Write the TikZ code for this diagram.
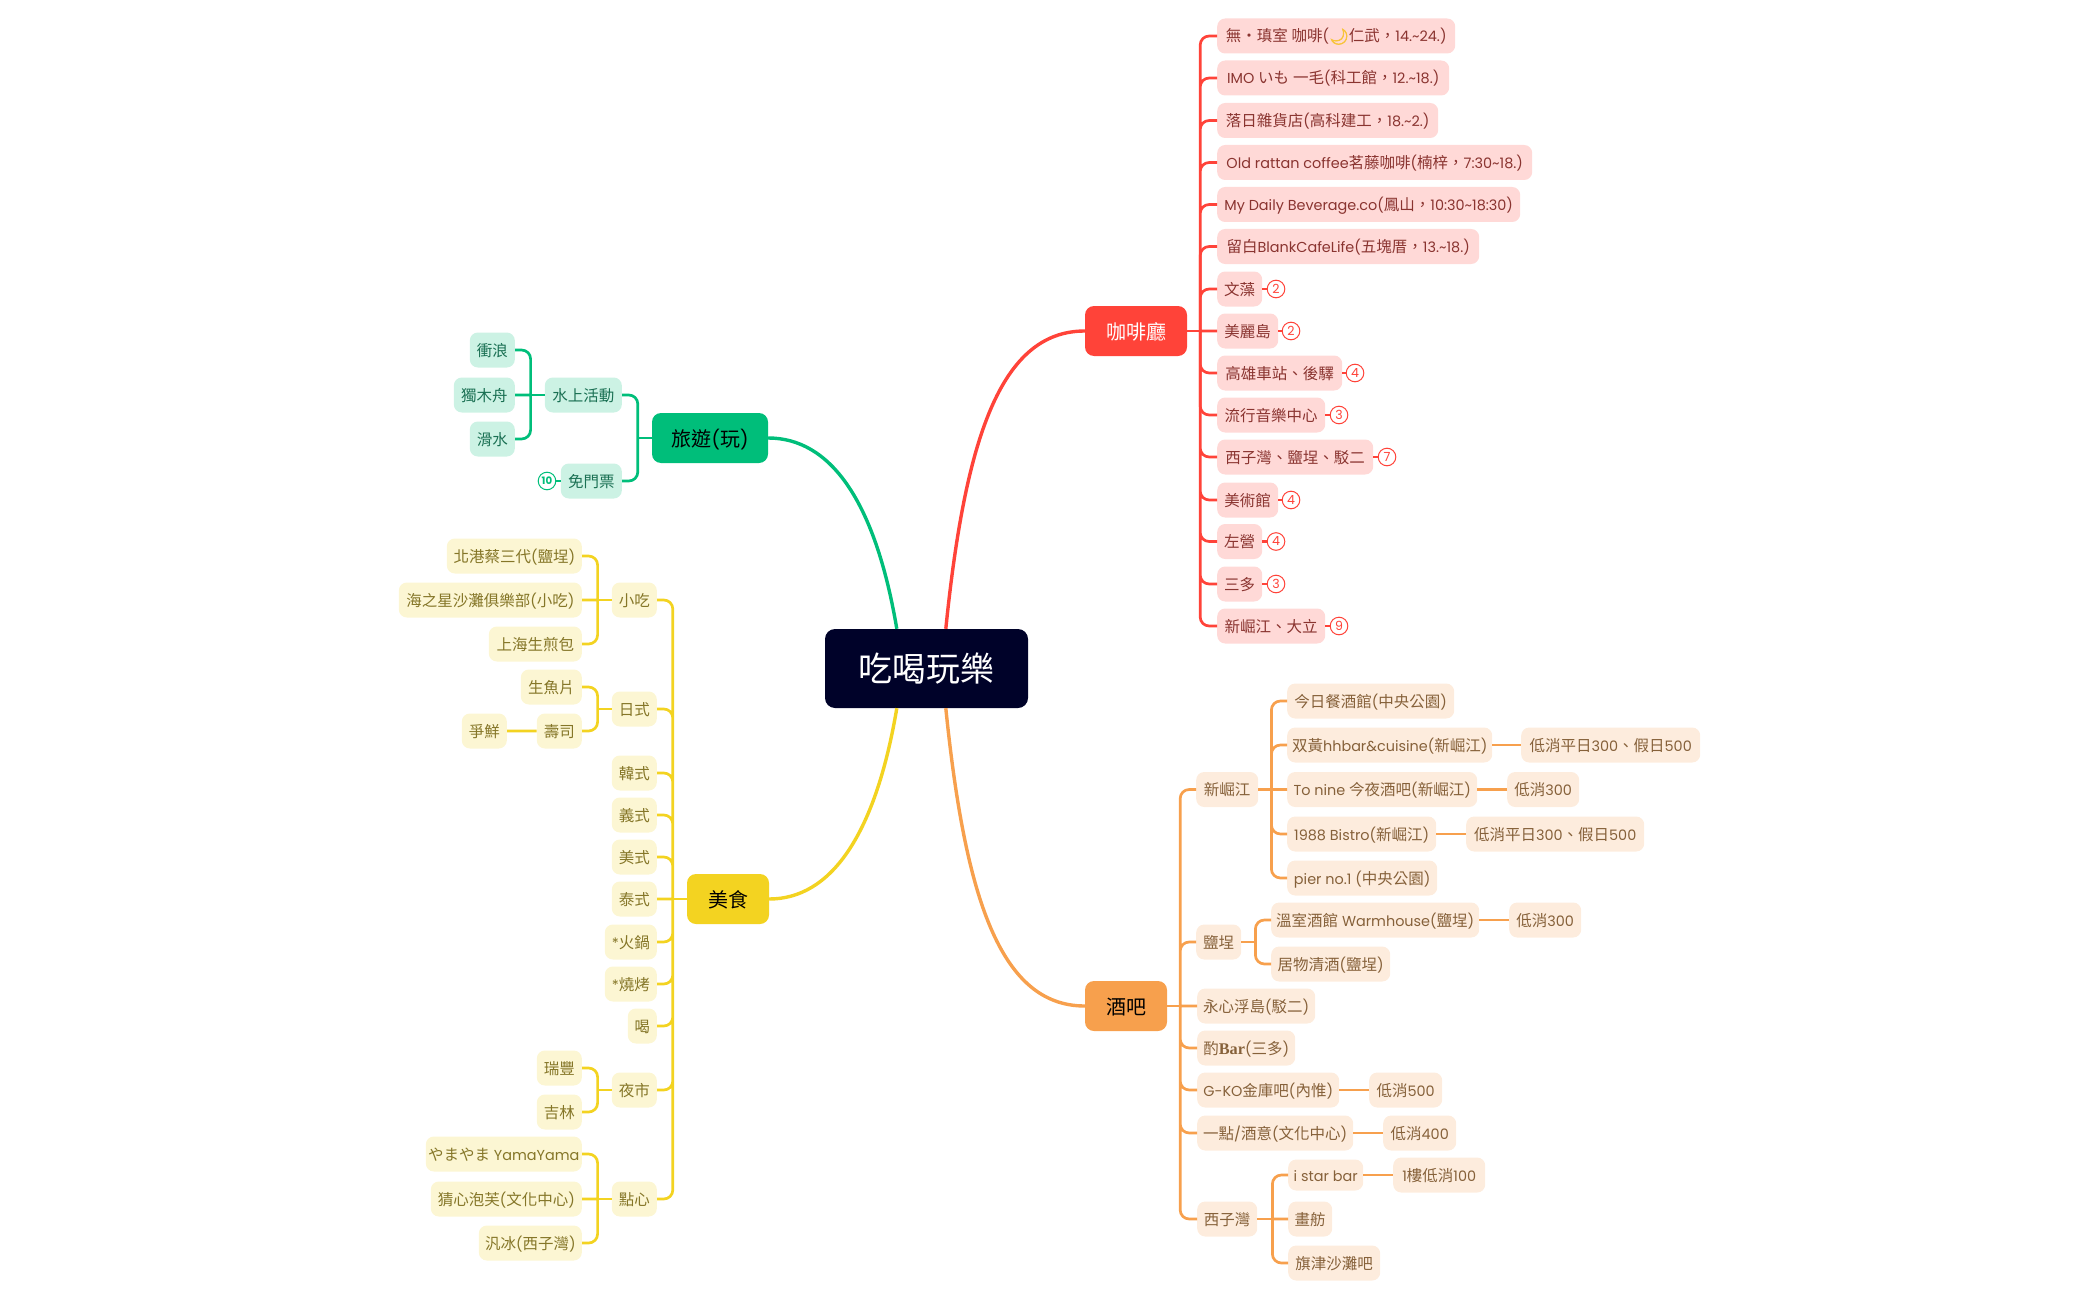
\documentclass[tikz,border=0pt]{standalone}
\usepackage{fontspec}
\setmainfont[Scale=0.93]{Poppins}
\newfontfamily\cjkfont{Noto Sans CJK TC}
\newfontfamily\emojifont[FakeBold=4]{Noto Emoji}
\newfontfamily\barfont[Scale=1.05]{Liberation Serif}
% chinese and kana go to the cjk font
\XeTeXinterchartokenstate=1
\newXeTeXintercharclass\cjkclass
\newcount\cjkchar
\cjkchar="3000 \loop\XeTeXcharclass\cjkchar=\cjkclass\ifnum\cjkchar<"9FFF\advance\cjkchar by 1\repeat
\cjkchar="FF00 \loop\XeTeXcharclass\cjkchar=\cjkclass\ifnum\cjkchar<"FFEF\advance\cjkchar by 1\repeat
\XeTeXinterchartoks 0 \cjkclass={\cjkfont}
\XeTeXinterchartoks \cjkclass 0={\rmfamily}
\XeTeXinterchartoks 4095 \cjkclass={\cjkfont}
\XeTeXinterchartoks \cjkclass 4095={\rmfamily}
\newcommand{\tld}{\char"007E }
\definecolor{rootcol}{HTML}{000229}
\definecolor{redcol}{HTML}{FF4339}
\definecolor{redfill}{HTML}{FFD9D7}
\definecolor{redtext}{HTML}{8A3430}
\definecolor{orangecol}{HTML}{F7A04D}
\definecolor{orangefill}{HTML}{FDECDD}
\definecolor{orangetext}{HTML}{86613A}
\definecolor{greencol}{HTML}{00BE7A}
\definecolor{greenfill}{HTML}{CCF2E4}
\definecolor{greentext}{HTML}{1A7053}
\definecolor{yellowcol}{HTML}{F3D321}
\definecolor{yellowfill}{HTML}{FCF6D3}
\definecolor{yellowtext}{HTML}{857628}
\definecolor{mooncol}{HTML}{F8C43A}
\tikzset{
  leafnode/.style={rounded corners=8pt, inner sep=0pt, minimum height=35pt, text height=13.6pt, text depth=1.6pt, font=\fontsize{15.5}{18}\selectfont},
  redleaf/.style={leafnode, fill=redfill, text=redtext},
  orangeleaf/.style={leafnode, fill=orangefill, text=orangetext},
  greenleaf/.style={leafnode, fill=greenfill, text=greentext},
  yellowleaf/.style={leafnode, fill=yellowfill, text=yellowtext},
  topicnode/.style={rounded corners=9pt, inner sep=0pt, minimum height=50pt, text height=19pt, text depth=2.4pt, font=\fontsize{20}{24}\selectfont},
  badge/.style={circle, draw=#1, fill=white, text=#1, line width=1pt, inner sep=0pt, minimum size=17.6pt, font=\fontsize{13.5}{14}\selectfont},
  redlink/.style={draw=redcol, line width=2.7pt, rounded corners=9pt},
  orangelink/.style={draw=orangecol, line width=2.7pt, rounded corners=9pt},
  greenlink/.style={draw=greencol, line width=2.7pt, rounded corners=9pt},
  yellowlink/.style={draw=yellowcol, line width=2.7pt, rounded corners=9pt},
  trunk/.style={line width=3.4pt},
}
\begin{document}
\begin{tikzpicture}[x=1pt, y=-1pt]
    \useasboundingbox (0,0) rectangle (2099,1300);

    % Centre
    \node[rounded corners=10pt, fill=rootcol, text=white, inner sep=0pt, minimum width=203pt, minimum height=79pt, text height=30pt, text depth=4.2pt, font=\fontsize{34}{38}\selectfont] (root) at (926.5,668.5) {吃喝玩樂};

    % Main topics
    \node[topicnode, fill=redcol, text=white, minimum width=102pt] (cafe) at (1136,331) {咖啡廳};
    \node[topicnode, fill=orangecol, text=black, minimum width=82pt] (bar) at (1126,1006) {酒吧};
    \node[topicnode, fill=greencol, text=black, minimum width=116pt] (travel) at (710,438) {旅遊(玩)};
    \node[topicnode, fill=yellowcol, text=black, minimum width=82pt] (food) at (728,899) {美食};

    \draw[trunk, draw=redcol] ([xshift=121pt]root.north west) .. controls (965,440) and (1000,331) .. (cafe.west);
    \draw[trunk, draw=orangecol] ([xshift=121pt]root.south west) .. controls (965,897) and (1000,1006) .. (bar.west);
    \draw[trunk, draw=greencol] ([xshift=72pt]root.north west) .. controls (875,500) and (830,438) .. (travel.east);
    \draw[trunk, draw=yellowcol] ([xshift=72pt]root.south west) .. controls (875,837) and (830,899) .. (food.east);

    % Coffee
    \begin{scope}[every node/.append style={redleaf, anchor=west}]
        \node[minimum width=238pt] (c1) at (1217,36) {無・瑱室 咖啡({\emojifont\color{mooncol}🌙}仁武，14.\tld24.)};
        \node[minimum width=232pt] (c2) at (1217,78) {IMO いも 一毛(科工館，12.\tld18.)};
        \node[minimum width=221pt] (c3) at (1217,120.5) {落日雜貨店(高科建工，18.\tld2.)};
        \node[minimum width=315pt] (c4) at (1217,162.5) {Old rattan coffee茗藤咖啡(楠梓，7:30\tld18.)};
        \node[minimum width=303pt] (c5) at (1217,204.5) {My Daily Beverage.co(鳳山，10:30\tld18:30)};
        \node[minimum width=262pt] (c6) at (1217,246.5) {留白BlankCafeLife(五塊厝，13.\tld18.)};
        \node[minimum width=45pt] (c7) at (1217,289) {文藻};
        \node[minimum width=61pt] (c8) at (1217,331) {美麗島};
        \node[minimum width=125pt] (c9) at (1217,373) {高雄車站、後驛};
        \node[minimum width=108pt] (c10) at (1217,415) {流行音樂中心};
        \node[minimum width=156pt] (c11) at (1217,457) {西子灣、鹽埕、駁二};
        \node[minimum width=61pt] (c12) at (1217,500) {美術館};
        \node[minimum width=45pt] (c13) at (1217,541.5) {左營};
        \node[minimum width=45pt] (c14) at (1217,584) {三多};
        \node[minimum width=108pt] (c15) at (1217,626) {新崛江、大立};
    \end{scope}
    \node[badge=redcol] (n7) at (1276,289) {2};
    \node[badge=redcol] (n8) at (1291,331) {2};
    \node[badge=redcol] (n9) at (1355,373) {4};
    \node[badge=redcol] (n10) at (1339,415) {3};
    \node[badge=redcol] (n11) at (1387,457) {7};
    \node[badge=redcol] (n12) at (1291,500) {4};
    \node[badge=redcol] (n13) at (1276,541.5) {4};
    \node[badge=redcol] (n14) at (1276,584) {3};
    \node[badge=redcol] (n15) at (1339,626) {9};

    \coordinate (cafej) at ([xshift=13pt]cafe.east);
    \draw[redlink] (cafe.east) -- (cafej);
    \draw[redlink] (cafej) |- (c1.west) (cafej) |- (c2.west) (cafej) |- (c3.west) (cafej) |- (c4.west) (cafej) |- (c5.west);
    \draw[redlink] (cafej) |- (c6.west) (cafej) |- (c7.west) (cafej) -- (c8.west) (cafej) |- (c9.west) (cafej) |- (c10.west);
    \draw[redlink] (cafej) |- (c11.west) (cafej) |- (c12.west) (cafej) |- (c13.west) (cafej) |- (c14.west) (cafej) |- (c15.west);
    \draw[redlink] (c7.east) -- (n7) (c8.east) -- (n8) (c9.east) -- (n9) (c10.east) -- (n10) (c11.east) -- (n11);
    \draw[redlink] (c12.east) -- (n12) (c13.east) -- (n13) (c14.east) -- (n14) (c15.east) -- (n15);

    % Bars
    \begin{scope}[every node/.append style={orangeleaf, anchor=west}]
        \node[minimum width=62pt] (b1) at (1196,789.5) {新崛江};
        \node[minimum width=167pt] (b11) at (1287,701) {今日餐酒館(中央公園)};
        \node[minimum width=205pt] (b12) at (1287,745) {双黃hhbar\&cuisine(新崛江)};
        \node[minimum width=179pt] (b121) at (1521,745) {低消平日300、假日500};
        \node[minimum width=190pt] (b13) at (1287,789.5) {To nine 今夜酒吧(新崛江)};
        \node[minimum width=72pt] (b131) at (1507,789.5) {低消300};
        \node[minimum width=149pt] (b14) at (1287,834) {1988 Bistro(新崛江)};
        \node[minimum width=178pt] (b141) at (1466,834) {低消平日300、假日500};
        \node[minimum width=150pt] (b15) at (1287,878) {pier no.1 (中央公園)};
        \node[minimum width=45pt] (b2) at (1196,942) {鹽埕};
        \node[minimum width=208pt] (b21) at (1271,920) {溫室酒館 Warmhouse(鹽埕)};
        \node[minimum width=72pt] (b211) at (1509,920) {低消300};
        \node[minimum width=119pt] (b22) at (1271,964) {居物清酒(鹽埕)};
        \node[minimum width=118pt] (b3) at (1197,1006) {永心浮島(駁二)};
        \node[minimum width=98pt] (b4) at (1197,1048) {酌{\barfont\bfseries Bar}(三多)};
        \node[minimum width=142pt] (b5) at (1197,1090) {G-KO金庫吧(內惟)};
        \node[minimum width=73pt] (b51) at (1369,1090) {低消500};
        \node[minimum width=156pt] (b6) at (1197,1133) {一點/酒意(文化中心)};
        \node[minimum width=73pt] (b61) at (1383,1133) {低消400};
        \node[minimum width=60pt] (b7) at (1197,1219) {西子灣};
        \node[minimum width=75pt, minimum height=31pt] (b71) at (1288,1175) {i star bar};
        \node[minimum width=92pt] (b711) at (1393,1175) {1樓低消100};
        \node[minimum width=44pt] (b72) at (1288,1219) {畫舫};
        \node[minimum width=92pt] (b73) at (1288,1263) {旗津沙灘吧};
    \end{scope}

    \coordinate (barj) at ([xshift=13pt]bar.east);
    \coordinate (b1j) at ([xshift=13pt]b1.east);
    \coordinate (b2j) at ([xshift=14pt]b2.east);
    \coordinate (b7j) at ([xshift=15pt]b7.east);
    \draw[orangelink] (bar.east) -- (barj) (b1.east) -- (b1j) (b2.east) -- (b2j) (b7.east) -- (b7j);
    \draw[orangelink] (barj) |- (b1.west) (barj) |- (b2.west) (barj) -- (b3.west) (barj) |- (b4.west) (barj) |- (b5.west) (barj) |- (b6.west) (barj) |- (b7.west);
    \draw[orangelink] (b1j) |- (b11.west) (b1j) |- (b12.west) (b1j) -- (b13.west) (b1j) |- (b14.west) (b1j) |- (b15.west);
    \draw[orangelink] (b2j) |- (b21.west) (b2j) |- (b22.west);
    \draw[orangelink] (b7j) |- (b71.west) (b7j) -- (b72.west) (b7j) |- (b73.west);
    \draw[orangelink] (b12.east) -- (b121.west) (b13.east) -- (b131.west) (b14.east) -- (b141.west);
    \draw[orangelink] (b21.east) -- (b211.west) (b5.east) -- (b51.west) (b6.east) -- (b61.west) (b71.east) -- (b711.west);

    % Travel
    \begin{scope}[every node/.append style={greenleaf, anchor=east}]
        \node[minimum width=77pt] (t1) at (622,395) {水上活動};
        \node[minimum width=61pt] (t2) at (622,481) {免門票};
        \node[minimum width=45pt] (t11) at (515,350) {衝浪};
        \node[minimum width=61pt] (t12) at (515,395) {獨木舟};
        \node[minimum width=45pt] (t13) at (515,439) {滑水};
    \end{scope}
    \node[badge=greencol, font=\fontsize{11}{12}\selectfont\bfseries] (n16) at (547,481) {10};

    \coordinate (travelj) at ([xshift=-14pt]travel.west);
    \coordinate (t1j) at ([xshift=-14pt]t1.west);
    \draw[greenlink] (travel.west) -- (travelj) (t1.west) -- (t1j);
    \draw[greenlink] (travelj) |- (t1.east) (travelj) |- (t2.east);
    \draw[greenlink] (t1j) |- (t11.east) (t1j) -- (t12.east) (t1j) |- (t13.east);
    \draw[greenlink] (t2.west) -- (n16);

    % Food
    \begin{scope}[every node/.append style={yellowleaf, anchor=east}]
        \node[minimum width=45pt] (f1) at (657,600) {小吃};
        \node[minimum width=135pt] (f11) at (582,556) {北港蔡三代(鹽埕)};
        \node[minimum width=183pt] (f12) at (582,600) {海之星沙灘俱樂部(小吃)};
        \node[minimum width=93pt] (f13) at (582,644) {上海生煎包};
        \node[minimum width=45pt] (f2) at (657,709) {日式};
        \node[minimum width=61pt] (f21) at (582,687) {生魚片};
        \node[minimum width=45pt] (f22) at (582,731) {壽司};
        \node[minimum width=45pt] (f221) at (507,731) {爭鮮};
        \node[minimum width=45pt] (f3) at (657,773) {韓式};
        \node[minimum width=45pt] (f4) at (657,815) {義式};
        \node[minimum width=45pt] (f5) at (657,857) {美式};
        \node[minimum width=45pt] (f6) at (657,899) {泰式};
        \node[minimum width=52pt] (f7) at (657,942) {*火鍋};
        \node[minimum width=52pt] (f8) at (657,984) {*燒烤};
        \node[minimum width=29pt] (f9) at (657,1026) {喝};
        \node[minimum width=45pt] (f10) at (657,1090) {夜市};
        \node[minimum width=45pt] (f101) at (582,1068) {瑞豐};
        \node[minimum width=45pt] (f102) at (582,1112) {吉林};
        \node[minimum width=45pt] (f0) at (657,1199) {點心};
        \node[minimum width=156pt] (f01) at (582,1154) {やまやま YamaYama};
        \node[minimum width=151pt] (f02) at (582,1199) {猜心泡芙(文化中心)};
        \node[minimum width=103pt] (f03) at (582,1243) {汎冰(西子灣)};
    \end{scope}

    \coordinate (foodj) at ([xshift=-14pt]food.west);
    \coordinate (f1j) at ([xshift=-14pt]f1.west);
    \coordinate (f2j) at ([xshift=-14pt]f2.west);
    \coordinate (f10j) at ([xshift=-14pt]f10.west);
    \coordinate (f0j) at ([xshift=-14pt]f0.west);
    \draw[yellowlink] (food.west) -- (foodj) (f1.west) -- (f1j) (f2.west) -- (f2j) (f10.west) -- (f10j) (f0.west) -- (f0j);
    \draw[yellowlink] (foodj) |- (f1.east) (foodj) |- (f2.east) (foodj) |- (f3.east) (foodj) |- (f4.east) (foodj) |- (f5.east) (foodj) -- (f6.east);
    \draw[yellowlink] (foodj) |- (f7.east) (foodj) |- (f8.east) (foodj) |- (f9.east) (foodj) |- (f10.east) (foodj) |- (f0.east);
    \draw[yellowlink] (f1j) |- (f11.east) (f1j) -- (f12.east) (f1j) |- (f13.east);
    \draw[yellowlink] (f2j) |- (f21.east) (f2j) |- (f22.east) (f22.west) -- (f221.east);
    \draw[yellowlink] (f10j) |- (f101.east) (f10j) |- (f102.east);
    \draw[yellowlink] (f0j) |- (f01.east) (f0j) -- (f02.east) (f0j) |- (f03.east);

\end{tikzpicture}
\end{document}
